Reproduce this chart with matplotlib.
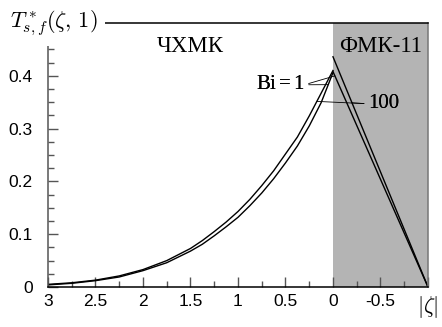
import numpy as np
import matplotlib.pyplot as plt
from matplotlib.ticker import MultipleLocator, FixedLocator

plt.rcParams.update({
    'font.family': 'Liberation Sans',
    'mathtext.fontset': 'cm',
    'font.size': 12,
})

zeta_left = [3.0, 2.75, 2.5, 2.25, 2.0, 1.75, 1.5, 1.375, 1.25, 1.125, 1.0,
             0.875, 0.75, 0.625, 0.5, 0.375, 0.25, 0.125, 0.0]
t_bi100_left = [0.005, 0.008, 0.013, 0.021, 0.033, 0.050, 0.073, 0.088, 0.105, 0.123, 0.143,
                0.166, 0.192, 0.220, 0.252, 0.284, 0.324, 0.367, 0.410]
t_bi1_left = [0.004, 0.007, 0.012, 0.019, 0.031, 0.046, 0.068, 0.081, 0.097, 0.114, 0.132,
              0.154, 0.178, 0.205, 0.235, 0.267, 0.305, 0.349, 0.406]
zeta_right = [0.0, -1.0]
t_bi1_right = [0.408, 0.0]
t_bi100_right = [0.436, 0.0]

xticks = [3, 2.5, 2, 1.5, 1, 0.5, 0, -0.5, -1]
xlabels = ['3', '2.5', '2', '1.5', '1', '0.5', '0', '-0.5', r'$|\zeta|$']
yticks = [0, 0.1, 0.2, 0.3, 0.4]
ylabels = ['0', '0.1', '0.2', '0.3', '0.4']

fig = plt.figure(figsize=(4.42, 3.27), dpi=100)
ax = fig.add_axes([0.1086, 0.1223, 0.8597, 0.8074])

ax.axvspan(0, -1, color='#b4b4b4', lw=0, zorder=0)

lw = 1.0
ax.plot(zeta_left, t_bi100_left, color='black', lw=lw)
ax.plot(zeta_left, t_bi1_left, color='black', lw=lw)
ax.plot(zeta_right, t_bi1_right, color='black', lw=lw)
ax.plot(zeta_right, t_bi100_right, color='black', lw=lw)

ax.set_xlim(3, -1)
ax.set_ylim(0, 0.5)
ax.set_xticks(xticks)
ax.set_xticklabels(xlabels)
ax.set_yticks(yticks)
ax.set_yticklabels(ylabels)
ax.xaxis.set_minor_locator(MultipleLocator(0.25))
ax.yaxis.set_minor_locator(FixedLocator(np.arange(0, 0.46, 0.025)))
ax.tick_params(which='both', direction='in', color='#555555', width=1.0,
               top=False, right=False, labelsize=12.5)
ax.tick_params(which='major', length=7)
ax.tick_params(which='minor', length=4)
ax.tick_params(axis='x', pad=5)
ax.tick_params(axis='y', pad=11)
for lab in ax.get_xticklabels()[-1:]:
    lab.set_fontsize(16)

for s in ['top', 'bottom']:
    ax.spines[s].set_color('black')
ax.spines['left'].set_color('#555555')
ax.spines['right'].set_color('#777777')
for s in ax.spines.values():
    s.set_linewidth(1.1)

serif = 'Liberation Serif'
ax.text(1.5, 0.455, 'ЧХМК', family=serif, fontsize=16.5, ha='center', va='center')
ax.text(-0.5, 0.455, 'ФМК-11', family=serif, fontsize=16.5, ha='center', va='center')

# annotation targets taken on the curves
def on(xs, ys, z):
    return (z, float(np.interp(z, xs[::-1], ys[::-1])))

arrow = dict(arrowstyle='-', lw=0.6, color='black', shrinkA=1, shrinkB=0)
bi1_targets = [on(zeta_left, t_bi1_left, 0.05), on(zeta_right, t_bi1_right, -0.02)]
bi100_targets = [on(zeta_left, t_bi100_left, 0.17), on(zeta_right, t_bi100_right, -0.2)]
for p in bi1_targets:
    ax.annotate('Bi$\\,$=$\\,$1', xy=p, xytext=(0.30, 0.383), family=serif, fontsize=15,
                ha='right', va='center', arrowprops=dict(arrow, relpos=(1, 0.5)))
for p in bi100_targets:
    ax.annotate('100', xy=p, xytext=(-0.37, 0.347), family=serif, fontsize=15,
                ha='left', va='center', arrowprops=dict(arrow, relpos=(0, 0.5)))

fig.text(0.022, 1 - 27 / 327, r'$T^*_{s,f}(\zeta,\,1)$', fontsize=16, va='baseline',
         ha='left', bbox=dict(boxstyle='square,pad=0.35', fc='white', ec='none'), zorder=10)

fig.savefig('out.png', dpi=100, facecolor='white')
